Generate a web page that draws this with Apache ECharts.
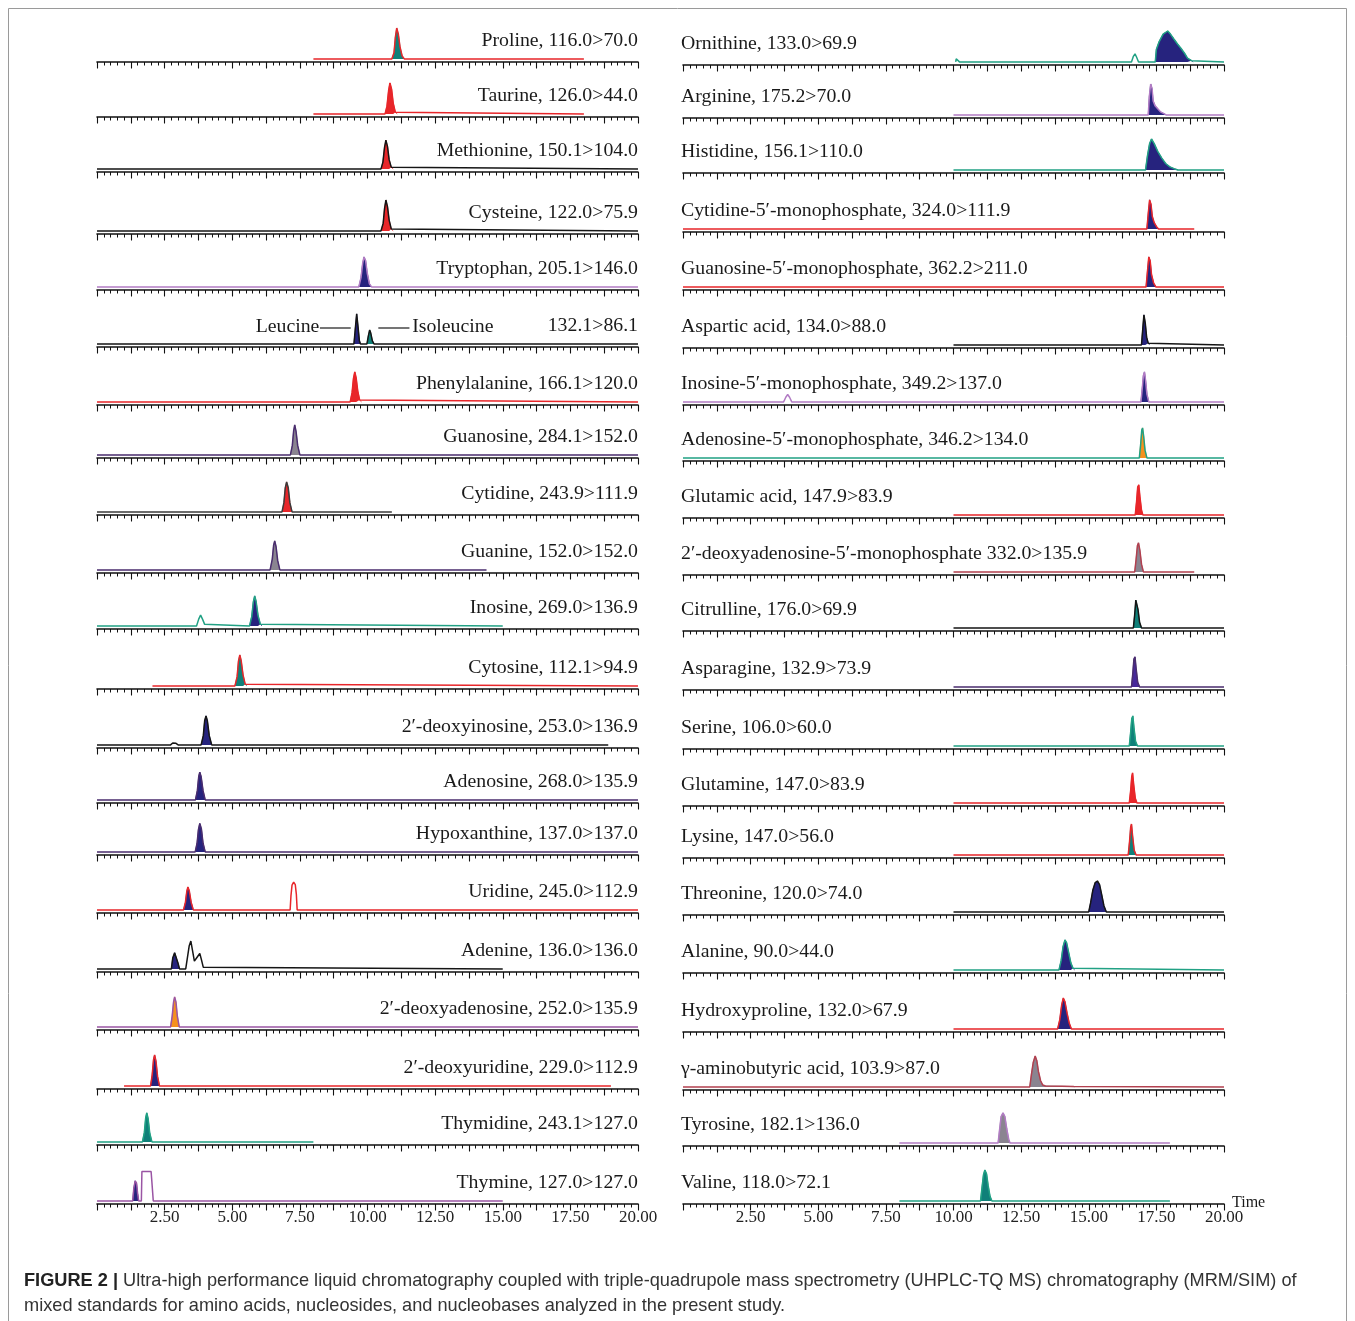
<!DOCTYPE html>
<html>
<head>
<meta charset="utf-8">
<script src="https://cdn.jsdelivr.net/npm/echarts@6/dist/echarts.min.js"></script>
<style>
  html, body { margin: 0; padding: 0; background: #ffffff; }
  #chart { width: 1355px; height: 1321px; }
</style>
</head>
<body>
<div id="chart"></div>
<script>
// ---- Left column: compound, MRM transition (top to bottom) ----
const leftLabels = [
  'Proline, 116.0>70.0', 'Taurine, 126.0>44.0', 'Methionine, 150.1>104.0',
  'Cysteine, 122.0>75.9', 'Tryptophan, 205.1>146.0', '132.1>86.1',
  'Phenylalanine, 166.1>120.0', 'Guanosine, 284.1>152.0', 'Cytidine, 243.9>111.9',
  'Guanine, 152.0>152.0', 'Inosine, 269.0>136.9', 'Cytosine, 112.1>94.9',
  '2\u2032-deoxyinosine, 253.0>136.9', 'Adenosine, 268.0>135.9', 'Hypoxanthine, 137.0>137.0',
  'Uridine, 245.0>112.9', 'Adenine, 136.0>136.0', '2\u2032-deoxyadenosine, 252.0>135.9',
  '2\u2032-deoxyuridine, 229.0>112.9', 'Thymidine, 243.1>127.0', 'Thymine, 127.0>127.0'
];
// acquisition window of each trace (min)
const leftWindows = [
  [8, 18], [8, 18], [0, 20], [0, 20], [0, 20], [0, 20], [0, 20], [0, 20], [0, 10.9],
  [0, 14.4], [0, 15], [2.05, 20], [0, 18.9], [0, 20], [0, 20], [0, 20], [0, 15],
  [0, 20], [1.0, 19.0], [0, 8], [0, 15]
];
// integrated peaks: [time (min), relative intensity (%)]
const leftFilled = [
  [[[10.9,0],[10.98,20],[11.03,70],[11.08,100],[11.14,80],[11.2,40],[11.28,10],[11.36,0]]],
  [[[10.65,0],[10.72,25],[10.78,75],[10.83,100],[10.89,80],[10.95,35],[11.03,5],[11.1,0]]],
  [[[10.5,0],[10.57,22],[10.63,70],[10.68,93],[10.74,72],[10.8,30],[10.88,5],[10.95,0]]],
  [[[10.5,0],[10.58,25],[10.63,72],[10.68,100],[10.74,78],[10.8,35],[10.88,6],[10.95,0]]],
  [[[9.68,0],[9.76,30],[9.82,75],[9.87,97],[9.93,85],[9.99,45],[10.07,10],[10.15,0]]],
  [[[9.5,0],[9.55,50],[9.6,97],[9.65,55],[9.7,10],[9.74,0]],
   [[9.98,0],[10.03,25],[10.08,45],[10.12,35],[10.18,10],[10.24,0]]],
  [[[9.36,0],[9.43,30],[9.48,75],[9.53,97],[9.58,78],[9.64,35],[9.71,6],[9.78,0]]],
  [[[7.15,0],[7.22,30],[7.27,78],[7.31,97],[7.36,75],[7.42,30],[7.5,0]]],
  [[[6.84,0],[6.91,30],[6.96,78],[7.01,97],[7.07,78],[7.13,30],[7.21,0]]],
  [[[6.4,0],[6.48,35],[6.53,80],[6.57,94],[6.62,75],[6.68,30],[6.76,0]]],
  [[[5.64,0],[5.72,30],[5.78,78],[5.83,97],[5.88,80],[5.95,35],[6.04,5],[6.1,0]]],
  [[[5.1,0],[5.18,30],[5.23,80],[5.28,100],[5.33,82],[5.4,35],[5.48,5],[5.54,0]]],
  [[[3.85,0],[3.93,30],[3.98,78],[4.03,94],[4.08,78],[4.15,30],[4.24,0]]],
  [[[3.64,0],[3.71,30],[3.76,75],[3.8,90],[3.85,75],[3.92,30],[4.0,0]]],
  [[[3.63,0],[3.7,28],[3.75,72],[3.8,92],[3.86,74],[3.92,28],[4.0,0]]],
  [[[3.2,0],[3.27,25],[3.32,60],[3.36,74],[3.41,62],[3.48,25],[3.56,0]]],
  [[[2.75,0],[2.8,35],[2.87,52],[2.93,48],[2.99,20],[3.05,0]]],
  [[[2.72,0],[2.78,35],[2.83,80],[2.87,97],[2.92,80],[2.97,35],[3.04,0]]],
  [[[1.98,0],[2.04,35],[2.09,85],[2.13,100],[2.18,80],[2.24,30],[2.31,0]]],
  [[[1.68,0],[1.75,30],[1.8,78],[1.84,94],[1.89,75],[1.95,28],[2.03,0]]],
  [[[1.32,0],[1.36,40],[1.41,65],[1.46,58],[1.5,25],[1.54,0]]]
];
// non-integrated signals in the same traces
const leftOpen = [
  [], [], [], [], [], [], [], [], [], [],
  [[[3.68,0],[3.76,22],[3.83,35],[3.9,22],[3.98,5],[4.04,0]]],
  [],
  [[[2.72,0],[2.8,6],[2.86,9],[2.92,5],[3.0,0]]],
  [], [],
  [[[7.14,0],[7.17,45],[7.21,80],[7.27,90],[7.33,82],[7.37,50],[7.4,0]]],
  [[[3.28,0],[3.34,35],[3.41,75],[3.47,90],[3.53,60],[3.6,25],[3.65,20],[3.72,40],[3.8,50],[3.86,30],[3.93,5],[4.0,0]]],
  [], [], [],
  [[[1.64,0],[1.66,95],[2.0,95],[2.02,72],[2.06,72],[2.08,0]]]
];

// ---- Right column ----
const rightLabels = [
  'Ornithine, 133.0>69.9', 'Arginine, 175.2>70.0', 'Histidine, 156.1>110.0',
  'Cytidine-5\u2032-monophosphate, 324.0>111.9', 'Guanosine-5\u2032-monophosphate, 362.2>211.0',
  'Aspartic acid, 134.0>88.0', 'Inosine-5\u2032-monophosphate, 349.2>137.0',
  'Adenosine-5\u2032-monophosphate, 346.2>134.0', 'Glutamic acid, 147.9>83.9',
  '2\u2032-deoxyadenosine-5\u2032-monophosphate 332.0>135.9', 'Citrulline, 176.0>69.9',
  'Asparagine, 132.9>73.9', 'Serine, 106.0>60.0', 'Glutamine, 147.0>83.9',
  'Lysine, 147.0>56.0', 'Threonine, 120.0>74.0', 'Alanine, 90.0>44.0',
  'Hydroxyproline, 132.0>67.9', '\u03b3-aminobutyric acid, 103.9>87.0',
  'Tyrosine, 182.1>136.0', 'Valine, 118.0>72.1'
];
const rightWindows = [
  [10.08, 20], [10, 20], [10, 20], [0, 18.9], [0, 20], [10, 20], [0, 20], [0, 20],
  [10, 20], [10, 18.9], [10, 20], [10, 20], [10, 20], [10, 20], [10, 20], [10, 20],
  [10, 20], [10, 20], [0, 20], [8, 18], [8, 18]
];
const rightFilled = [
  [[[17.46,0],[17.5,40],[17.6,65],[17.75,90],[17.92,100],[18.02,90],[18.14,75],[18.28,58],[18.4,45],[18.54,28],[18.65,12],[18.8,4],[18.86,0]]],
  [[[17.2,0],[17.24,60],[17.29,100],[17.34,85],[17.38,45],[17.45,30],[17.55,20],[17.65,10],[17.78,4],[17.86,0]]],
  [[[17.1,0],[17.17,45],[17.25,85],[17.32,100],[17.42,85],[17.55,60],[17.7,38],[17.85,20],[18.0,10],[18.15,4],[18.3,0]]],
  [[[17.15,0],[17.2,50],[17.25,94],[17.3,80],[17.35,40],[17.42,20],[17.5,8],[17.58,0]]],
  [[[17.12,0],[17.17,50],[17.22,97],[17.27,85],[17.32,40],[17.4,12],[17.48,0]]],
  [[[16.95,0],[17.0,55],[17.04,97],[17.09,70],[17.14,25],[17.2,5],[17.25,0]]],
  [[[16.93,0],[16.98,45],[17.02,85],[17.06,97],[17.1,70],[17.15,25],[17.22,0]]],
  [[[16.87,0],[16.92,45],[16.96,90],[16.99,97],[17.03,70],[17.08,25],[17.15,0]]],
  [[[16.72,0],[16.77,45],[16.81,90],[16.85,97],[16.89,60],[16.95,15],[17.0,0]]],
  [[[16.7,0],[16.75,40],[16.8,85],[16.84,94],[16.89,70],[16.95,25],[17.02,0]]],
  [[[16.65,0],[16.7,45],[16.74,90],[16.78,94],[16.82,60],[16.88,18],[16.95,0]]],
  [[[16.58,0],[16.63,45],[16.67,90],[16.71,97],[16.75,60],[16.81,15],[16.88,0]]],
  [[[16.5,0],[16.55,45],[16.59,88],[16.63,97],[16.67,60],[16.73,15],[16.8,0]]],
  [[[16.5,0],[16.55,40],[16.59,85],[16.62,97],[16.66,60],[16.72,15],[16.78,0]]],
  [[[16.46,0],[16.51,45],[16.55,90],[16.58,100],[16.62,62],[16.68,15],[16.75,0]]],
  [[[15.0,0],[15.07,30],[15.15,70],[15.24,95],[15.32,100],[15.4,88],[15.48,55],[15.56,20],[15.65,0]]],
  [[[13.9,0],[13.98,30],[14.05,75],[14.12,97],[14.18,88],[14.26,55],[14.34,22],[14.42,5],[14.48,0]]],
  [[[13.85,0],[13.93,30],[14.0,78],[14.06,100],[14.12,88],[14.2,50],[14.28,18],[14.36,0]]],
  [[[12.82,0],[12.88,40],[12.95,80],[13.02,100],[13.08,85],[13.14,50],[13.22,20],[13.3,6],[13.4,3],[14.0,2],[14.45,1],[14.48,0]]],
  [[[11.65,0],[11.7,40],[11.76,85],[11.83,97],[11.9,85],[11.97,45],[12.04,12],[12.09,0]]],
  [[[11.0,0],[11.05,40],[11.11,85],[11.16,100],[11.22,88],[11.28,50],[11.35,15],[11.42,0]]]
];
const rightOpen = [
  [[[10.08,0],[10.1,10],[10.22,0]], [[16.58,0],[16.65,18],[16.71,26],[16.77,15],[16.84,0]]],
  [], [], [], [], [],
  [[[3.72,0],[3.8,15],[3.87,24],[3.94,15],[4.02,0]]],
  [], [], [], [], [], [], [], [], [], [], [], [], [], []
];

// Time axis tick labels (min), shown under the bottom panels
const timeTicks = [2.5, 5, 7.5, 10, 12.5, 15, 17.5, 20];

// ---- Colours ----
const RED = '#e8262a', TEAL = '#21a184', NAVY = '#26237e', LPURPLE = '#b27cc4',
      PURPLE = '#9a55a4', DPURPLE = '#4a2d6e', BLACK = '#151515', GREY = '#8a8490',
      ORANGE = '#f5911e', DTEAL = '#0f8079', BROWN = '#b2404f', VIOLET = '#47289a';
const leftTraceColors = [RED, RED, BLACK, BLACK, LPURPLE, BLACK, RED, DPURPLE, '#3b3b3b',
  DPURPLE, TEAL, RED, BLACK, DPURPLE, DPURPLE, RED, BLACK, PURPLE, RED, TEAL, PURPLE];
const leftFillColors = [[DTEAL], [RED], [RED], [RED], [NAVY], [NAVY, DTEAL], [RED], [GREY], [RED],
  [GREY], [NAVY], [DTEAL], [NAVY], [NAVY], [NAVY], [NAVY], [NAVY], [ORANGE], [NAVY], [DTEAL], [NAVY]];
const rightTraceColors = [TEAL, LPURPLE, TEAL, RED, RED, BLACK, LPURPLE, TEAL, RED, BROWN,
  BLACK, DPURPLE, TEAL, RED, RED, BLACK, TEAL, RED, BROWN, LPURPLE, TEAL];
const rightFillColors = [[NAVY], [NAVY], [NAVY], [NAVY], [NAVY], [NAVY], [NAVY], [ORANGE], [RED],
  [GREY], [DTEAL], [VIOLET], [DTEAL], [RED], [DTEAL], [NAVY], [NAVY], [NAVY], [GREY], [GREY], [DTEAL]];

// ---- Layout (px) ----
const LEFT_X0 = 97, RIGHT_X0 = 683, AXIS_W = 541, PLOT_H = 34;
const leftRowY = [62, 117, 172, 234, 290, 347, 405, 458, 515, 573, 629, 689, 748, 803, 855, 913, 972, 1030, 1089, 1145, 1204];
const rightRowY = [65, 118, 173, 232, 290, 348, 405, 461, 518, 575, 631, 690, 749, 806, 858, 915, 973, 1032, 1090, 1146, 1204];
const SERIF = '"Liberation Serif", "Times New Roman", serif';
const SANS = '"Liberation Sans", Arial, sans-serif';
const LABEL_SIZE = 19.8;

const grids = [], xAxes = [], yAxes = [], series = [], graphics = [];

function traceData(win, filled, open) {
  const peaks = filled.concat(open).slice().sort((a, b) => a[0][0] - b[0][0]);
  const pts = [[win[0], 0]];
  peaks.forEach(p => p.forEach(q => pts.push(q)));
  pts.push([win[1], 0]);
  return pts;
}

function tickLabel(v) {
  const hit = timeTicks.find(t => Math.abs(t - v) < 1e-6);
  return hit === undefined ? '' : hit.toFixed(2);
}

function addPanel(x0, rowY, isBottom, win, filled, open, traceColor, fillColors) {
  const idx = grids.length;
  grids.push({ left: x0, top: rowY - PLOT_H, width: AXIS_W, height: PLOT_H, containLabel: false });
  xAxes.push({
    type: 'value', gridIndex: idx, min: 0, max: 20, interval: 1.25,
    axisLine: { show: true, onZero: false, lineStyle: { color: '#111', width: 1.6 } },
    axisTick: { show: true, length: 6.5, lineStyle: { color: '#111', width: 1.1 } },
    minorTick: { show: true, splitNumber: 5, length: 3.5, lineStyle: { color: '#111', width: 1 } },
    splitLine: { show: false }, minorSplitLine: { show: false },
    axisLabel: {
      show: isBottom, formatter: tickLabel, margin: 5,
      fontFamily: SERIF, fontSize: 17, color: '#222'
    }
  });
  yAxes.push({ type: 'value', gridIndex: idx, min: -10, max: 100, show: false });
  filled.forEach((pk, k) => {
    const c = fillColors[k] || fillColors[0];
    series.push({
      type: 'line', xAxisIndex: idx, yAxisIndex: idx, data: pk, showSymbol: false,
      silent: true, clip: false, z: 2, animation: false,
      lineStyle: { color: c, width: 0.8 },
      areaStyle: { color: c, opacity: 1 }
    });
  });
  series.push({
    type: 'line', xAxisIndex: idx, yAxisIndex: idx, data: traceData(win, filled, open),
    showSymbol: false, silent: true, clip: false, z: 3, animation: false,
    lineStyle: { color: traceColor, width: 1.5 }
  });
}

function pxLeft(t) { return LEFT_X0 + t / 20 * AXIS_W; }

function addText(text, x, y, align, size, font) {
  graphics.push({
    type: 'text', silent: true, z: 10,
    style: {
      text: text, x: x, y: y, align: align, verticalAlign: 'middle',
      textAlign: align, textVerticalAlign: 'middle',
      fontFamily: font || SERIF, fontSize: size || LABEL_SIZE, fill: '#1a1a1a'
    }
  });
}

for (let i = 0; i < leftLabels.length; i++) {
  addPanel(LEFT_X0, leftRowY[i], i === leftLabels.length - 1, leftWindows[i],
    leftFilled[i], leftOpen[i], leftTraceColors[i], leftFillColors[i]);
  addText(leftLabels[i], LEFT_X0 + AXIS_W, leftRowY[i] - 21, 'right');
}
for (let i = 0; i < rightLabels.length; i++) {
  addPanel(RIGHT_X0, rightRowY[i], i === rightLabels.length - 1, rightWindows[i],
    rightFilled[i], rightOpen[i], rightTraceColors[i], rightFillColors[i]);
  addText(rightLabels[i], RIGHT_X0 - 2, rightRowY[i] - 21, 'left');
}

// Leucine / Isoleucine pointers
const leuY = leftRowY[5] - 20;
addText('Leucine', pxLeft(8.22), leuY, 'right');
addText('Isoleucine', pxLeft(11.65), leuY, 'left');
graphics.push({ type: 'line', silent: true, shape: { x1: pxLeft(8.24), y1: leuY + 1, x2: pxLeft(9.38), y2: leuY + 1 },
  style: { stroke: '#1a1a1a', lineWidth: 1.2 } });
graphics.push({ type: 'line', silent: true, shape: { x1: pxLeft(10.4), y1: leuY + 1, x2: pxLeft(11.55), y2: leuY + 1 },
  style: { stroke: '#1a1a1a', lineWidth: 1.2 } });

// axis title
addText('Time', 1232, 1203, 'left', 16);

// figure frame
graphics.push({ type: 'rect', silent: true, z: 0, shape: { x: 8.5, y: 8.5, width: 1338, height: 1330 },
  style: { fill: 'none', stroke: '#9a9a9a', lineWidth: 1 } });

// caption
graphics.push({
  type: 'text', silent: true, z: 10,
  style: {
    text: '{b|FIGURE 2 |} Ultra-high performance liquid chromatography coupled with triple-quadrupole mass spectrometry (UHPLC-TQ MS) chromatography (MRM/SIM) of',
    x: 24, y: 1281, verticalAlign: 'middle', textVerticalAlign: 'middle',
    fontFamily: SANS, fontSize: 18.2, fill: '#333',
    rich: { b: { fontFamily: SANS, fontSize: 18.2, fontWeight: 'bold', fill: '#222' } }
  }
});
addText('mixed standards for amino acids, nucleosides, and nucleobases analyzed in the present study.', 24, 1306, 'left', 18.2, SANS);
graphics[graphics.length - 1].style.fill = '#333';

const chart = echarts.init(document.getElementById('chart'), null, { renderer: 'canvas' });
chart.setOption({
  animation: false,
  backgroundColor: '#ffffff',
  grid: grids,
  xAxis: xAxes,
  yAxis: yAxes,
  series: series,
  graphic: { elements: graphics }
});
</script>
</body>
</html>
